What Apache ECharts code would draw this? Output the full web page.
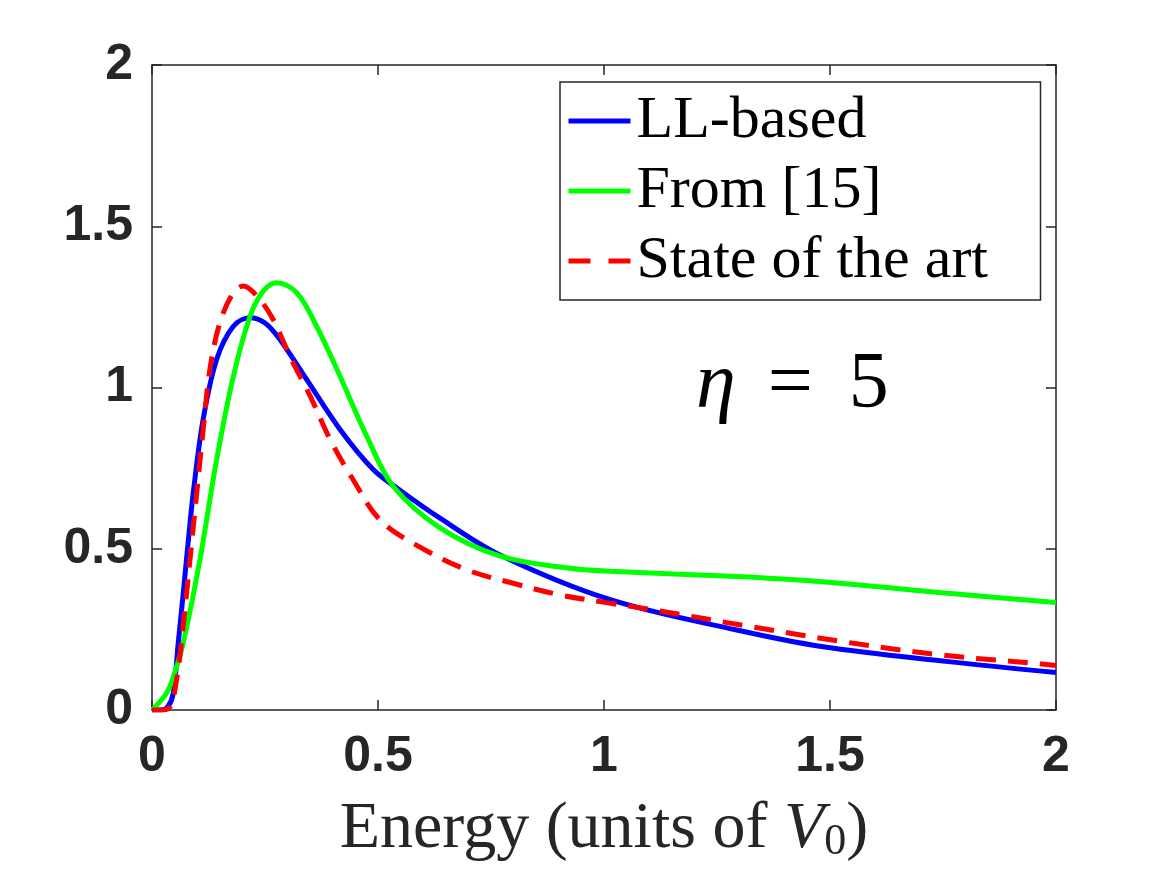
<!DOCTYPE html>
<html>
<head>
<meta charset="utf-8">
<script src="https://cdn.jsdelivr.net/npm/echarts@6/dist/echarts.min.js"></script>
<style>html,body{margin:0;padding:0;background:#fff}#c{width:1167px;height:875px}</style>
</head>
<body>
<div id="c"></div>
<script>
// ---- data ----
const llX = [0, 0.02, 0.035, 0.047, 0.058, 0.069, 0.08, 0.091, 0.113, 0.143, 0.18, 0.217, 0.25, 0.283, 0.342, 0.416, 0.49, 0.55, 0.637, 0.771, 1.014, 1.294, 1.481, 1.762, 2.0];
const llY = [0, 0, 0.01, 0.052, 0.207, 0.36, 0.52, 0.67, 0.90, 1.087, 1.19, 1.216, 1.2, 1.149, 1.025, 0.87, 0.745, 0.68, 0.595, 0.48, 0.342, 0.248, 0.197, 0.150, 0.116];

const fromX = [0, 0.032, 0.05, 0.069, 0.106, 0.143, 0.18, 0.217, 0.246, 0.276, 0.32, 0.364, 0.416, 0.475, 0.534, 0.637, 0.771, 0.921, 1.014, 1.294, 1.481, 1.762, 2.0];
const fromY = [0, 0.052, 0.115, 0.207, 0.466, 0.776, 1.035, 1.221, 1.299, 1.325, 1.294, 1.19, 1.035, 0.849, 0.693, 0.565, 0.477, 0.440, 0.430, 0.414, 0.398, 0.362, 0.333];

const sotaX = [0, 0.02, 0.04, 0.055, 0.069, 0.084, 0.099, 0.114, 0.128, 0.15, 0.18, 0.202, 0.232, 0.268, 0.305, 0.35, 0.394, 0.445, 0.504, 0.584, 0.696, 0.799, 0.902, 1.005, 1.107, 1.322, 1.528, 1.743, 1.949, 2.0];
const sotaY = [0, 0, 0.01, 0.10, 0.259, 0.466, 0.673, 0.88, 1.056, 1.2, 1.294, 1.315, 1.284, 1.211, 1.097, 0.973, 0.839, 0.714, 0.59, 0.512, 0.435, 0.393, 0.357, 0.333, 0.311, 0.259, 0.212, 0.171, 0.145, 0.138];

const seriesNames = ['LL-based', 'From [15]', 'State of the art'];
const seriesColors = ['#0000ff', '#00ff00', '#ff0000'];
const xTicks = [0, 0.5, 1, 1.5, 2];
const yTicks = [0, 0.5, 1, 1.5, 2];

const zip = (xs, ys) => xs.map((x, i) => [x, ys[i]]);
const axisColor = '#262626';
const tickFont = {fontFamily: 'Liberation Sans', fontWeight: 'bold', fontSize: 50, color: axisColor};
const fmt = v => (yTicks.indexOf(v) >= 0 ? String(v) : '');

const frameAxis = (extra) => Object.assign({
  type: 'value', min: 0, max: 2, interval: 0.5,
  axisLine: {show: true, onZero: false, lineStyle: {color: axisColor, width: 1.5}},
  axisTick: {show: true, inside: true, length: 10, lineStyle: {color: axisColor, width: 1.5}},
  splitLine: {show: false}
}, extra);

const chart = echarts.init(document.getElementById('c'));
chart.setOption({
  animation: false,
  backgroundColor: '#fff',
  grid: {left: 152, right: 111, top: 65, bottom: 165},
  legend: {
    orient: 'vertical', left: 560, top: 82,
    data: [
      {name: seriesNames[0]},
      {name: seriesNames[1]},
      {name: seriesNames[2], lineStyle: {type: [22, 18]}}
    ],
    backgroundColor: '#fff',
    borderColor: axisColor, borderWidth: 1.5, borderRadius: 0,
    padding: [6, 10, 6, 6],
    itemGap: 4, itemWidth: 62, itemHeight: 20,
    itemStyle: {opacity: 0},
    lineStyle: {width: 5},
    textStyle: {fontFamily: 'Liberation Serif', fontSize: 60, lineHeight: 66, color: '#000', width: 394, padding: [0, 0, 0, 1]}
  },
  xAxis: [
    frameAxis({
      position: 'bottom',
      axisLabel: Object.assign({margin: 22, formatter: fmt}, tickFont),
      name: 'Energy (units of {v|V}{s|0})',
      nameLocation: 'middle', nameGap: 85,
      nameTextStyle: {
        fontFamily: 'Liberation Serif', fontSize: 66, color: axisColor,
        rich: {
          v: {fontFamily: 'Liberation Serif', fontStyle: 'italic', fontSize: 66, color: axisColor},
          s: {fontFamily: 'Liberation Serif', fontSize: 44, color: axisColor, padding: [25, 0, 0, 0]}
        }
      }
    }),
    frameAxis({position: 'top', axisLabel: {show: false}})
  ],
  yAxis: [
    frameAxis({position: 'left', axisLabel: Object.assign({margin: 19, formatter: fmt}, tickFont)}),
    frameAxis({position: 'right', axisLabel: {show: false}})
  ],
  graphic: [{
    type: 'text', left: 696, top: 346,
    style: {
      text: '{i|η}{e|=}{n|5}',
      rich: {
        i: {fontFamily: 'Liberation Serif', fontStyle: 'italic', fontSize: 80, fill: '#000'},
        e: {fontFamily: 'Liberation Serif', fontSize: 80, fill: '#000', padding: [0, 36, 0, 32]},
        n: {fontFamily: 'Liberation Serif', fontSize: 80, fill: '#000'}
      }
    }
  }],
  series: [
    {name: seriesNames[0], type: 'line', data: zip(llX, llY), smooth: 0.35, symbol: 'none',
     lineStyle: {color: seriesColors[0], width: 5}, itemStyle: {color: seriesColors[0]}, z: 2},
    {name: seriesNames[1], type: 'line', data: zip(fromX, fromY), smooth: 0.35, symbol: 'none',
     lineStyle: {color: seriesColors[1], width: 5}, itemStyle: {color: seriesColors[1]}, z: 3},
    {name: seriesNames[2], type: 'line', data: zip(sotaX, sotaY), smooth: 0.35, symbol: 'none',
     lineStyle: {color: seriesColors[2], width: 5, type: [20, 12]}, itemStyle: {color: seriesColors[2]}, z: 4}
  ]
});
</script>
</body>
</html>
